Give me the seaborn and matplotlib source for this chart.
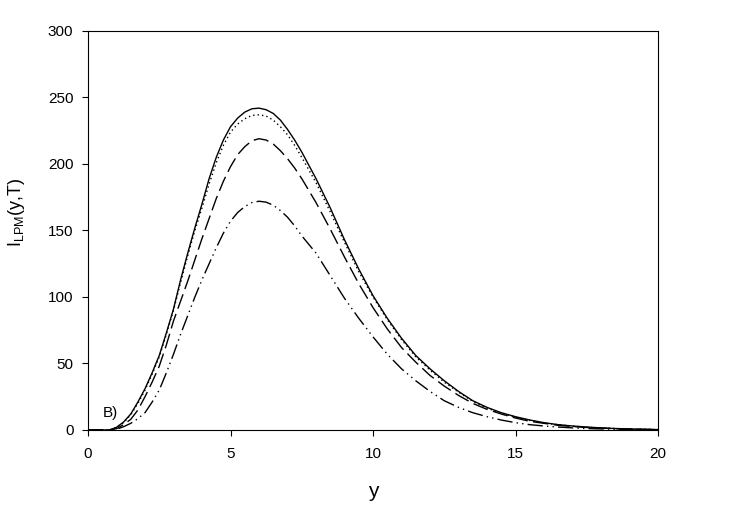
import numpy as np
import pandas as pd
import matplotlib
matplotlib.use("Agg")
import matplotlib.pyplot as plt
import seaborn as sns

y_grid = [0.0, 0.5, 0.75, 1.0, 1.25, 1.5, 1.75, 2.0, 2.25, 2.5, 2.75, 3.0,
          3.25, 3.5, 3.75, 4.0, 4.25, 4.5, 4.75, 5.0, 5.25, 5.5, 5.75, 6.0,
          6.25, 6.5, 6.75, 7.0, 7.25, 7.5, 8.0, 8.5, 9.0, 9.5, 10.0, 10.5,
          11.0, 11.5, 12.0, 12.5, 13.0, 13.5, 14.0, 14.5, 15.0, 15.5, 16.0,
          16.5, 17.0, 17.5, 18.0, 18.5, 19.0, 19.5, 20.0]

solid = [0, 0, 0, 2, 6, 12, 21, 31, 43, 56, 73, 91,
         113, 133, 152, 170, 189, 205, 218, 228, 234.5, 239, 241.5, 242,
         240.8, 238, 233, 226, 218, 209, 189, 167, 143, 121, 101, 84,
         69, 56, 46, 37, 29, 22, 17, 13, 10, 7.5, 5.5,
         4, 3, 2.2, 1.6, 1.1, 0.8, 0.5, 0.3]
dotted = [0, 0, 0, 2, 5.5, 11.5, 20, 30, 42, 55, 72, 90,
          111, 131, 150, 167, 185, 201, 214, 224, 230, 234, 236.5, 237,
          236, 233, 228, 222, 214, 205, 186, 164, 141, 119, 100, 83,
          68, 55, 45, 36, 28.5, 21.5, 16.5, 12.5, 9.5, 7.2, 5.3,
          3.9, 2.9, 2.1, 1.5, 1.1, 0.8, 0.5, 0.3]
dashed = [0, 0, 0, 1, 4, 8, 15, 25, 36, 48, 64, 82,
          97, 112, 128, 144, 159, 174, 187, 198, 207, 213, 217.5, 219,
          218, 215, 210, 204, 197, 189, 171, 151, 130, 110, 92, 76,
          62, 51, 41, 33, 26, 20, 15.5, 12, 9, 6.5, 5,
          3.5, 2.6, 1.9, 1.4, 1.0, 0.7, 0.5, 0.35]
dashdotdot = [0, 0, 0, 0.5, 2.5, 5, 8.5, 13, 21, 30, 43, 57,
              72, 86, 100, 113, 125, 137, 148, 157, 163.5, 168, 171, 172,
              171.3, 169, 165, 160, 153.5, 146, 133, 116, 99, 84, 70, 57,
              46, 37, 29, 22, 17, 13, 10, 7.5, 5.5, 4, 3,
              2.2, 1.6, 1.1, 0.8, 0.6, 0.4, 0.3, 0.2]

series_names = ["s1", "s2", "s3", "s4"]
series_values = [solid, dotted, dashed, dashdotdot]

df = pd.concat(
    [pd.DataFrame({"y": y_grid, "I": vals, "series": name})
     for name, vals in zip(series_names, series_values)],
    ignore_index=True,
)

sns.set_style("white")
plt.rcParams["font.family"] = ["Liberation Sans", "DejaVu Sans"]
plt.rcParams["text.color"] = "black"
plt.rcParams["axes.labelcolor"] = "black"
plt.rcParams["xtick.color"] = "black"
plt.rcParams["ytick.color"] = "black"

fig = plt.figure(figsize=(7.47, 5.19), dpi=100)
ax = fig.add_axes([0.1178, 0.1715, 0.7631, 0.7688])

dash_styles = {
    "s1": "",
    "s2": (1, 2.2),
    "s3": (11, 4),
    "s4": (11, 3, 1, 3, 1, 3),
}
sns.lineplot(data=df, x="y", y="I", style="series", dashes=dash_styles,
             color="black", linewidth=1.0, legend=False, ax=ax,
             estimator=None, sort=False)

ax.set_xlim(0, 20)
ax.set_ylim(0, 300)
ax.set_xticks([0, 5, 10, 15, 20])
ax.set_yticks(np.arange(0, 301, 50))
ax.tick_params(axis="both", which="both", direction="out", length=4.5,
               width=0.8, color="black", labelcolor="black", labelsize=11,
               pad=6, bottom=True, left=True, top=False, right=False)
ax.tick_params(axis="x", pad=7.5)

for side in ["top", "right", "bottom", "left"]:
    ax.spines[side].set_visible(True)
    ax.spines[side].set_color("black")
    ax.spines[side].set_linewidth(0.8)

ax.set_xlabel("y", fontsize=15)
ax.xaxis.set_label_coords(0.5, -0.13)
ax.set_ylabel(r"I$_{\mathregular{LPM}}$(y,T)", fontsize=13)
ax.yaxis.set_label_coords(-0.107, 0.546)

ax.text(0.52, 10, "B)", fontsize=11)

fig.savefig("out.png", dpi=100)
